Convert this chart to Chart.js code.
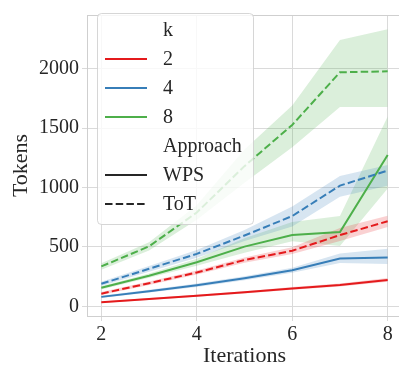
<!DOCTYPE html>
<html>
<head>
<meta charset="utf-8">
<script src="https://cdn.jsdelivr.net/npm/chart.js@4"></script>
<style>
  html, body { margin: 0; padding: 0; background: #fff; overflow: hidden; }
  #wrap { width: 399px; height: 366px; overflow: hidden; }
  canvas { display: block; }
</style>
</head>
<body>
<div id="wrap"><canvas id="chart" width="402" height="366"></canvas></div>
<script>
// Data
const iterations = [2, 3, 4, 5, 6, 7, 8];
const xTicks = [2, 4, 6, 8];
const yTicks = [0, 500, 1000, 1500, 2000];

const kValues = ['2', '4', '8'];
const kColors = ['#e41a1c', '#377eb8', '#4daf4a'];
const approaches = ['WPS', 'ToT'];

// WPS (solid)
const wpsK2 = [35, 62, 89, 118, 151, 180, 222];
const wpsK2Lo = [28, 54, 80, 108, 140, 168, 207];
const wpsK2Hi = [42, 70, 98, 128, 162, 193, 238];

const wpsK4 = [80, 128, 178, 237, 304, 403, 411];
const wpsK4Lo = [70, 116, 164, 220, 284, 365, 357];
const wpsK4Hi = [90, 140, 192, 254, 324, 446, 484];

const wpsK8 = [156, 258, 371, 503, 600, 625, 1274];
const wpsK8Lo = [142, 240, 342, 452, 548, 508, 992];
const wpsK8Hi = [170, 276, 400, 573, 710, 760, 1597];

// ToT (dashed)
const totK2 = [107, 195, 285, 390, 468, 600, 716];
const totK2Lo = [95, 180, 268, 368, 440, 550, 668];
const totK2Hi = [120, 210, 302, 412, 498, 660, 762];

const totK4 = [190, 316, 442, 596, 760, 1016, 1143];
const totK4Lo = [172, 292, 410, 550, 672, 922, 1016];
const totK4Hi = [208, 340, 474, 642, 841, 1097, 1190];

const totK8 = [336, 505, 790, 1180, 1527, 1970, 1978];
const totK8Lo = [309, 470, 730, 1040, 1340, 1677, 1677];
const totK8Hi = [363, 540, 850, 1320, 1690, 2242, 2333];

const FONT = "'Liberation Serif', 'Times New Roman', 'DejaVu Serif', serif";
const TEXT = '#262626';
const GRID = '#dadada';
const SPINE = '#cfcfcf';
const DASH = [7.5, 3.2];

function alpha(hex, a) {
    const n = parseInt(hex.slice(1), 16);
    return `rgba(${n >> 16}, ${(n >> 8) & 255}, ${n & 255}, ${a})`;
}

const series = [
    { mean: wpsK2, lo: wpsK2Lo, hi: wpsK2Hi, color: kColors[0], dash: [] },
    { mean: totK2, lo: totK2Lo, hi: totK2Hi, color: kColors[0], dash: DASH },
    { mean: wpsK4, lo: wpsK4Lo, hi: wpsK4Hi, color: kColors[1], dash: [] },
    { mean: totK4, lo: totK4Lo, hi: totK4Hi, color: kColors[1], dash: DASH },
    { mean: wpsK8, lo: wpsK8Lo, hi: wpsK8Hi, color: kColors[2], dash: [] },
    { mean: totK8, lo: totK8Lo, hi: totK8Hi, color: kColors[2], dash: DASH }
];

const toPoints = arr => arr.map((v, i) => ({ x: iterations[i], y: v }));

const datasets = [];
// bands first (lower + upper filled to lower)
series.forEach(s => {
    datasets.push({
        data: toPoints(s.lo), borderWidth: 0, pointRadius: 0, fill: false,
        borderColor: 'rgba(0,0,0,0)'
    });
    datasets.push({
        data: toPoints(s.hi), borderWidth: 0, pointRadius: 0, fill: '-1',
        borderColor: 'rgba(0,0,0,0)', backgroundColor: alpha(s.color, 0.2)
    });
});
// mean lines
series.forEach(s => {
    datasets.push({
        data: toPoints(s.mean), borderColor: s.color, borderWidth: 2,
        borderDash: s.dash, pointRadius: 0, fill: false, tension: 0
    });
});

// Top spine
const topSpine = {
    id: 'topSpine',
    afterDraw(chart) {
        const { ctx, chartArea } = chart;
        ctx.save();
        ctx.strokeStyle = SPINE;
        ctx.lineWidth = 1;
        ctx.beginPath();
        ctx.moveTo(chartArea.left, chartArea.top + 0.5);
        ctx.lineTo(chartArea.right, chartArea.top + 0.5);
        ctx.stroke();
        ctx.restore();
    }
};

// Grouped legend (k / Approach) like seaborn
const groupLegend = {
    id: 'groupLegend',
    afterDraw(chart) {
        const ctx = chart.ctx;
        ctx.save();
        ctx.beginPath();
        ctx.roundRect(97.5, 13.5, 156, 211, 4);
        ctx.fillStyle = 'rgba(255,255,255,0.8)';
        ctx.fill();
        ctx.strokeStyle = 'rgba(204,204,204,0.8)';
        ctx.lineWidth = 1;
        ctx.stroke();

        const rows = [{ label: 'k' }];
        kValues.forEach((k, i) => rows.push({ label: k, color: kColors[i], dash: [] }));
        rows.push({ label: 'Approach' });
        approaches.forEach((a, i) => rows.push({ label: a, color: TEXT, dash: i ? DASH : [] }));

        ctx.font = `20px ${FONT}`;
        ctx.textBaseline = 'middle';
        ctx.textAlign = 'left';
        rows.forEach((r, i) => {
            const y = 30 + i * 29;
            if (r.color) {
                ctx.strokeStyle = r.color;
                ctx.lineWidth = 2;
                ctx.setLineDash(r.dash);
                ctx.beginPath();
                ctx.moveTo(105, y);
                ctx.lineTo(147, y);
                ctx.stroke();
                ctx.setLineDash([]);
            }
            ctx.fillStyle = TEXT;
            ctx.fillText(r.label, 163, y + 1);
        });
        ctx.restore();
    }
};

new Chart(document.getElementById('chart'), {
    type: 'line',
    data: { datasets: datasets },
    plugins: [topSpine, groupLegend],
    options: {
        responsive: false,
        animation: false,
        layout: { padding: { top: 2, right: 0, bottom: 0, left: 0 } },
        plugins: {
            legend: { display: false },
            tooltip: { enabled: false },
            filler: { drawTime: 'beforeDatasetsDraw' }
        },
        scales: {
            x: {
                type: 'linear',
                min: 1.7,
                max: 8.3,
                afterBuildTicks: scale => { scale.ticks = xTicks.map(v => ({ value: v })); },
                afterFit: scale => { scale.height = 50; },
                grid: { color: GRID, lineWidth: 1, tickLength: 5 },
                border: { color: SPINE },
                ticks: {
                    padding: 2,
                    color: TEXT,
                    font: { family: FONT, size: 20 },
                    maxRotation: 0,
                    callback: v => String(v)
                },
                title: {
                    display: true,
                    text: 'Iterations',
                    color: TEXT,
                    font: { family: FONT, size: 22, lineHeight: 1 },
                    padding: { top: 0, bottom: -1 }
                }
            },
            y: {
                min: -81,
                max: 2452,
                afterBuildTicks: scale => { scale.ticks = yTicks.map(v => ({ value: v })); },
                afterFit: scale => { scale.width = 87; },
                grid: { color: GRID, lineWidth: 1, tickLength: 5 },
                border: { color: SPINE },
                ticks: {
                    padding: 3,
                    color: TEXT,
                    font: { family: FONT, size: 20 },
                    callback: v => String(v)
                },
                title: {
                    display: true,
                    text: 'Tokens',
                    color: TEXT,
                    font: { family: FONT, size: 22, lineHeight: 1 },
                    padding: { top: 10, bottom: 0 }
                }
            }
        }
    }
});
</script>
</body>
</html>
